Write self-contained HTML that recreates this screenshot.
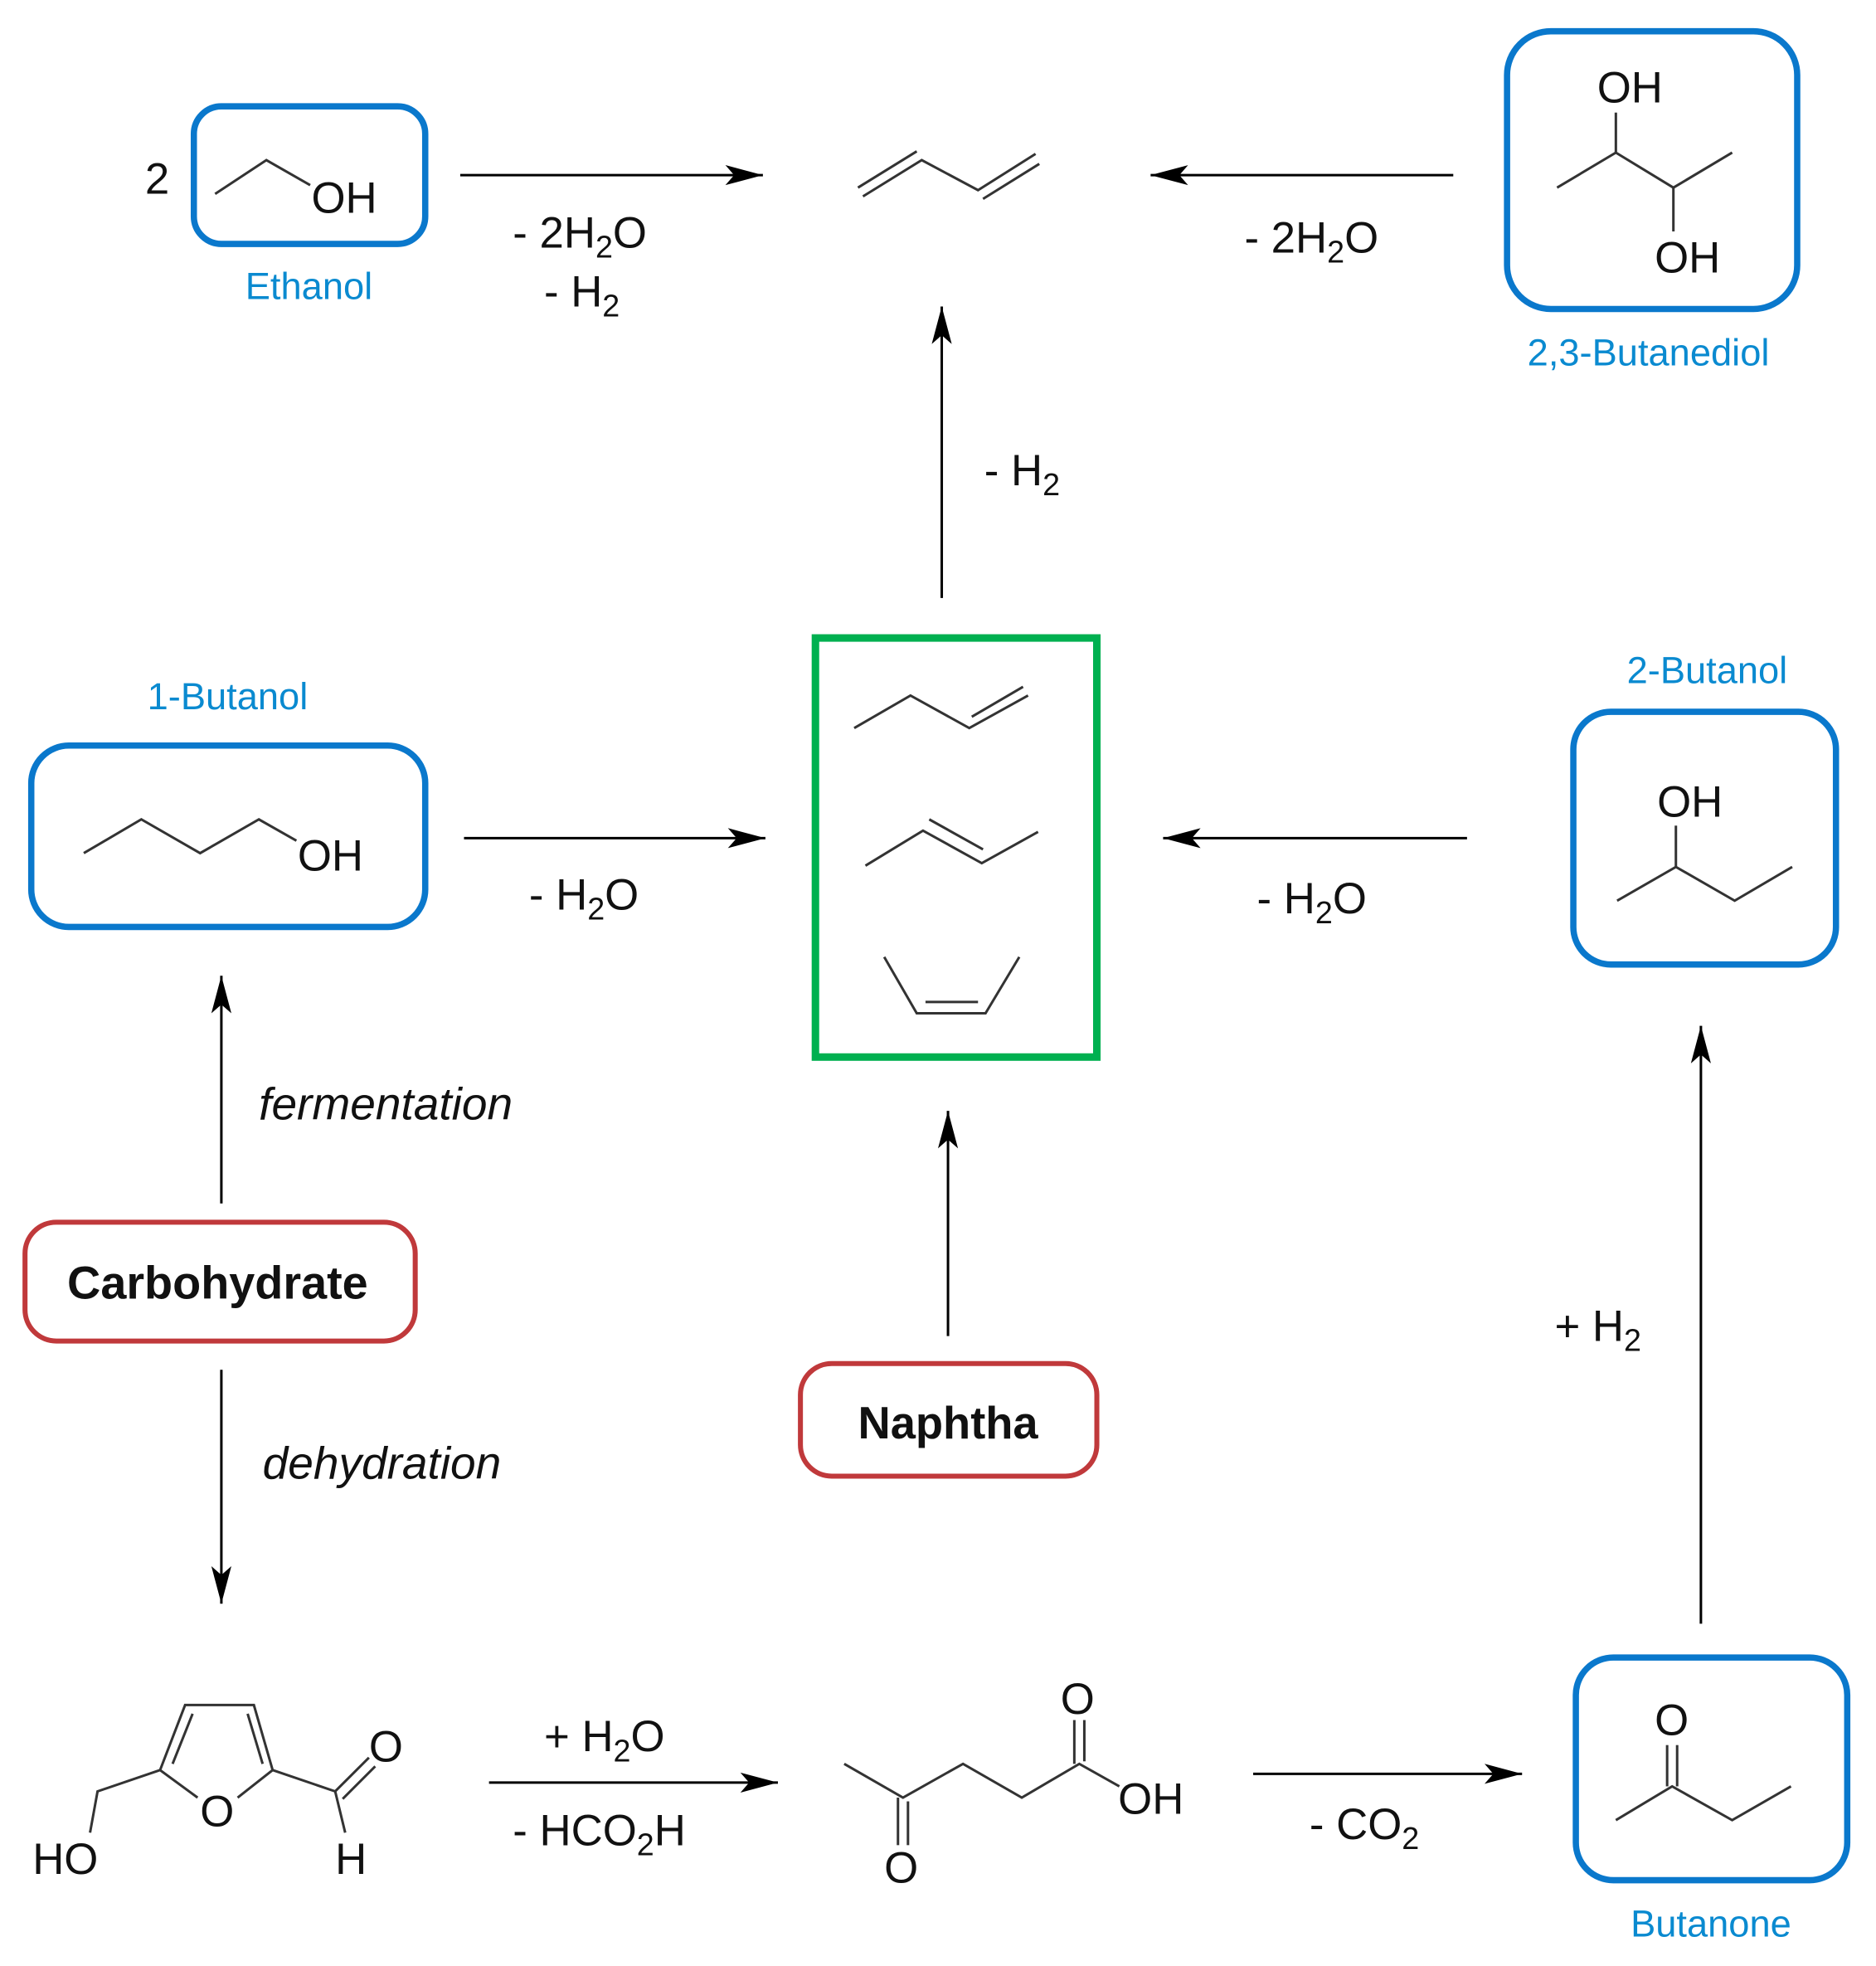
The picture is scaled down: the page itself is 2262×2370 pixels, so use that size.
<!DOCTYPE html>
<html><head><meta charset="utf-8"><style>html,body{margin:0;padding:0;background:#fff}svg{display:block}</style></head>
<body>
<svg width="2262" height="2370" viewBox="0 0 1500 1571.6" preserveAspectRatio="none" xmlns="http://www.w3.org/2000/svg" font-family="Liberation Sans, sans-serif">
<defs>
<marker id="a" markerWidth="32" markerHeight="18" refX="30" refY="9" orient="auto" markerUnits="userSpaceOnUse">
<path d="M0,1 L30,9 L0,17 L7,9 Z" fill="#000"/></marker>
</defs>
<g stroke="#000" stroke-width="2" fill="none">
<line x1="368" y1="140" x2="610" y2="140" marker-end="url(#a)"/>
<line x1="1162" y1="140" x2="920" y2="140" marker-end="url(#a)"/>
<line x1="753" y1="478" x2="753" y2="245" marker-end="url(#a)"/>
<line x1="371" y1="670" x2="612" y2="670" marker-end="url(#a)"/>
<line x1="1173" y1="670" x2="930" y2="670" marker-end="url(#a)"/>
<line x1="177" y1="962" x2="177" y2="780" marker-end="url(#a)"/>
<line x1="177" y1="1095" x2="177" y2="1282" marker-end="url(#a)"/>
<line x1="758" y1="1068" x2="758" y2="888" marker-end="url(#a)"/>
<line x1="1360" y1="1298" x2="1360" y2="820" marker-end="url(#a)"/>
<line x1="391" y1="1425" x2="622" y2="1425" marker-end="url(#a)"/>
<line x1="1002" y1="1418" x2="1217" y2="1418" marker-end="url(#a)"/>
</g>
<g fill="none" stroke="#0a78cc" stroke-width="5">
<rect x="155" y="85" width="185" height="110" rx="22"/>
<rect x="1205" y="25" width="232" height="222" rx="35"/>
<rect x="25" y="596" width="315" height="145" rx="30"/>
<rect x="1258" y="569" width="210" height="202" rx="30"/>
<rect x="1260" y="1325" width="217" height="178" rx="30"/>
</g>
<rect x="652" y="510" width="225" height="335" fill="none" stroke="#00b050" stroke-width="6"/>
<g fill="none" stroke="#c0393b" stroke-width="4">
<rect x="20" y="977" width="312" height="95" rx="25"/>
<rect x="640" y="1090" width="237" height="90" rx="25"/>
</g>
<g stroke="#333" stroke-width="2" fill="none">
<polyline points="172,155 213,128 248,148"/>
<polyline points="690,157 737,128 782,152 828,123"/>
<line x1="686" y1="150" x2="733" y2="121"/><line x1="786" y1="159" x2="831" y2="131"/>
<line x1="1292" y1="90" x2="1292" y2="122"/>
<polyline points="1245,150 1292,122 1338,150 1385,122"/>
<line x1="1338" y1="150" x2="1338" y2="185"/>
<polyline points="683,582 728,556 775,582 822,556"/>
<line x1="777" y1="573" x2="818" y2="549"/>
<polyline points="692,692 738,664 785,690 830,665"/>
<line x1="743" y1="655" x2="786" y2="679"/>
<polyline points="707,765 733,810 788,810 815,765"/>
<line x1="740" y1="801" x2="782" y2="801"/>
<polyline points="67,682 113,655 160,682 207,655 237,672"/>
<line x1="1340" y1="660" x2="1340" y2="693"/>
<polyline points="1293,720 1340,693 1387,720 1433,693"/>
<polyline points="158,1437 128,1415 148,1363 203,1363 218,1415 190,1437"/>
<line x1="138" y1="1410" x2="154" y2="1370"/><line x1="198" y1="1370" x2="210" y2="1410"/>
<polyline points="128,1415 78,1432 72,1465"/>
<polyline points="218,1415 268,1432 276,1465"/>
<line x1="268" y1="1432" x2="295" y2="1405"/><line x1="274" y1="1438" x2="300" y2="1412"/>
<polyline points="675,1410 722,1437 770,1410 817,1437 863,1410 895,1428"/>
<line x1="718" y1="1437" x2="718" y2="1475"/><line x1="726" y1="1440" x2="726" y2="1475"/>
<line x1="859" y1="1410" x2="859" y2="1375"/><line x1="867" y1="1408" x2="867" y2="1375"/>
<line x1="1333" y1="1395" x2="1333" y2="1428"/><line x1="1341" y1="1395" x2="1341" y2="1428"/>
<polyline points="1292,1455 1337,1428 1385,1455 1432,1428"/>
</g>
<g fill="#111" font-size="35">
<text x="116" y="155">2</text>
<text x="249" y="170">OH</text>
<text x="1277" y="82">OH</text>
<text x="1323" y="218">OH</text>
<text x="238" y="696">OH</text>
<text x="1325" y="653">OH</text>
<text x="26" y="1498">HO</text>
<text x="160" y="1460">O</text>
<text x="295" y="1408">O</text>
<text x="268" y="1498">H</text>
<text x="848" y="1370">O</text>
<text x="707" y="1505">O</text>
<text x="894" y="1450">OH</text>
<text x="1323" y="1387">O</text>
<text x="410" y="198">- 2H<tspan font-size="25" dy="8">2</tspan><tspan dy="-8">O</tspan></text>
<text x="435" y="245">- H<tspan font-size="25" dy="8">2</tspan></text>
<text x="995" y="202">- 2H<tspan font-size="25" dy="8">2</tspan><tspan dy="-8">O</tspan></text>
<text x="787" y="388">- H<tspan font-size="25" dy="8">2</tspan></text>
<text x="423" y="727">- H<tspan font-size="25" dy="8">2</tspan><tspan dy="-8">O</tspan></text>
<text x="1005" y="730">- H<tspan font-size="25" dy="8">2</tspan><tspan dy="-8">O</tspan></text>
<text x="1243" y="1072">+ H<tspan font-size="25" dy="8">2</tspan></text>
<text x="435" y="1400">+ H<tspan font-size="25" dy="8">2</tspan><tspan dy="-8">O</tspan></text>
<text x="410" y="1475">- HCO<tspan font-size="25" dy="8">2</tspan><tspan dy="-8">H</tspan></text>
<text x="1047" y="1470">- CO<tspan font-size="25" dy="8">2</tspan></text>
<text x="207" y="895" font-style="italic" font-size="36.5">fermentation</text>
<text x="210" y="1182" font-style="italic" font-size="36.5">dehydration</text>
<text x="174" y="1038" font-weight="bold" font-size="37" text-anchor="middle">Carbohydrate</text>
<text x="758" y="1150" font-weight="bold" font-size="36" text-anchor="middle">Naphtha</text>
</g>
<g fill="#0a8ad0" font-size="30" text-anchor="middle">
<text x="247" y="239">Ethanol</text>
<text x="1318" y="292">2,3-Butanediol</text>
<text x="182" y="567">1-Butanol</text>
<text x="1365" y="546">2-Butanol</text>
<text x="1368" y="1548">Butanone</text>
</g>
</svg>
</body></html>
